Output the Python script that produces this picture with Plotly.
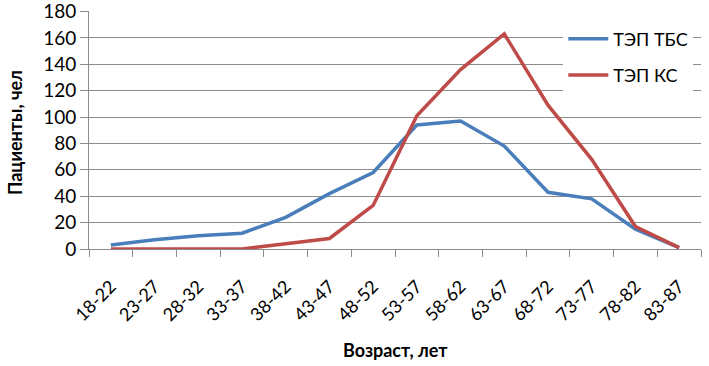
import plotly.graph_objects as go

categories = ["18-22", "23-27", "28-32", "33-37", "38-42", "43-47", "48-52",
              "53-57", "58-62", "63-67", "68-72", "73-77", "78-82", "83-87"]
tbs_values = [3, 7, 10, 12, 24, 42, 58, 94, 97, 78, 43, 38, 15, 1]
ks_values = [0, 0, 0, 0, 4, 8, 33, 101, 136, 163, 109, 68, 17, 1]
y_ticks = [0, 20, 40, 60, 80, 100, 120, 140, 160, 180]

FONT = "Lato"
GRID = "#8c8c8c"

fig = go.Figure()
fig.add_trace(go.Scatter(x=categories, y=tbs_values, mode="lines", name="ТЭП ТБС",
                         line=dict(color="#4a7ebb", width=3.5), legendgroup="a"))
fig.add_trace(go.Scatter(x=categories, y=ks_values, mode="lines", name="ТЭП КС",
                         line=dict(color="#be4b48", width=3.5), legendgroup="b"))

fig.update_layout(
    width=709, height=366,
    margin=dict(l=89, r=8, t=11, b=117, autoexpand=False),
    paper_bgcolor="white", plot_bgcolor="white",
    font=dict(family=FONT, color="#000000"),
    showlegend=True,
    legend=dict(x=0.775, y=0.96, xanchor="left", yanchor="top",
                bgcolor="white", font=dict(size=18, family=FONT),
                tracegroupgap=10, itemwidth=40, traceorder="grouped"),
    xaxis=dict(type="category", range=[-0.5, 13.5], tickangle=-45,
               tickson="boundaries", ticks="outside", ticklen=7, tickcolor=GRID,
               showline=True, linecolor=GRID, linewidth=1, showgrid=False,
               automargin=False, ticklabelstandoff=19,
               tickfont=dict(size=18, family=FONT)),
    yaxis=dict(range=[0, 180.4], tickvals=y_ticks, showgrid=True, gridcolor=GRID,
               gridwidth=1, ticks="outside", ticklen=8, tickcolor=GRID,
               showline=True, linecolor=GRID, zeroline=False, automargin=False,
               ticklabeloverflow="allow",
               tickfont=dict(size=19, family=FONT)),
    annotations=[
        dict(text="<b>Возраст, лет</b>", xref="paper", yref="paper",
             x=0.5, y=-(350 - 249) / 238, xanchor="center",
             yanchor="middle", showarrow=False, font=dict(size=18, family=FONT)),
        dict(text="<b>Пациенты, чел</b>", xref="paper", yref="paper",
             x=-(89 - 15) / 612, y=(249 - 133) / 238, xanchor="center",
             yanchor="middle", textangle=-90, showarrow=False,
             font=dict(size=18, family=FONT)),
    ],
)

fig.write_html("out.html", config={"displayModeBar": False},
               post_script="document.body.style.margin='0';")
